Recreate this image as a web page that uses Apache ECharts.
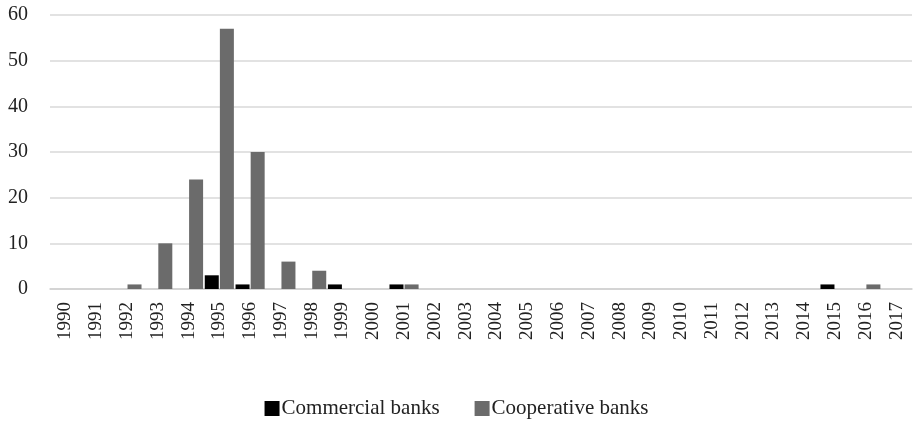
<!DOCTYPE html>
<html lang="en">
<head>
    <meta charset="UTF-8">
    <title>Bank failures by year</title>
    <script src="https://cdn.jsdelivr.net/npm/echarts@6.0.0/dist/echarts.min.js"></script>
    <style>
        html, body { margin: 0; padding: 0; background: #fff; }
        #chart { width: 913px; height: 422px; }
    </style>
</head>
<body>
    <div id="chart"></div>
    <script>
        // years on the x axis
        var years = [];
        for (var y = 1990; y <= 2017; y++) years.push(String(y));

        var commercial = [0, 0, 0, 0, 0, 3, 1, 0, 0, 1, 0, 1, 0, 0, 0, 0, 0, 0, 0, 0, 0, 0, 0, 0, 0, 1, 0, 0];
        var cooperative = [0, 0, 1, 10, 24, 57, 30, 6, 4, 0, 0, 1, 0, 0, 0, 0, 0, 0, 0, 0, 0, 0, 0, 0, 0, 0, 1, 0];

        var font = '"Liberation Serif", "DejaVu Serif", serif';
        var chart = echarts.init(document.getElementById('chart'));

        chart.setOption({
            animation: false,
            textStyle: { fontFamily: font },
            grid: { left: 50, right: 1, top: 15, bottom: 133 },
            legend: {
                top: 393,
                left: 'center',
                itemWidth: 15,
                itemHeight: 15,
                itemGap: 35,
                icon: 'rect',
                textStyle: { fontFamily: font, fontSize: 21, color: '#222', padding: [0, 0, 0, -3] },
                data: ['Commercial banks', 'Cooperative banks']
            },
            xAxis: {
                type: 'category',
                data: years,
                axisLine: { lineStyle: { color: '#d0d0d0', width: 1.5 } },
                axisTick: { show: false },
                axisLabel: { rotate: 90, fontSize: 19, color: '#222', margin: 13, fontFamily: font }
            },
            yAxis: {
                type: 'value',
                min: 0,
                max: 60,
                interval: 10,
                axisLine: { show: false },
                axisTick: { show: false },
                axisLabel: { fontSize: 20, color: '#222', margin: 22, fontFamily: font },
                splitLine: { lineStyle: { color: '#d9d9d9', width: 1.5 } }
            },
            series: [
                {
                    name: 'Commercial banks',
                    type: 'bar',
                    data: commercial,
                    barWidth: 14,
                    barGap: '8%',
                    itemStyle: { color: '#000000' }
                },
                {
                    name: 'Cooperative banks',
                    type: 'bar',
                    data: cooperative,
                    barWidth: 14,
                    barGap: '8%',
                    itemStyle: { color: '#6b6b6b' }
                }
            ]
        });
    </script>
</body>
</html>
